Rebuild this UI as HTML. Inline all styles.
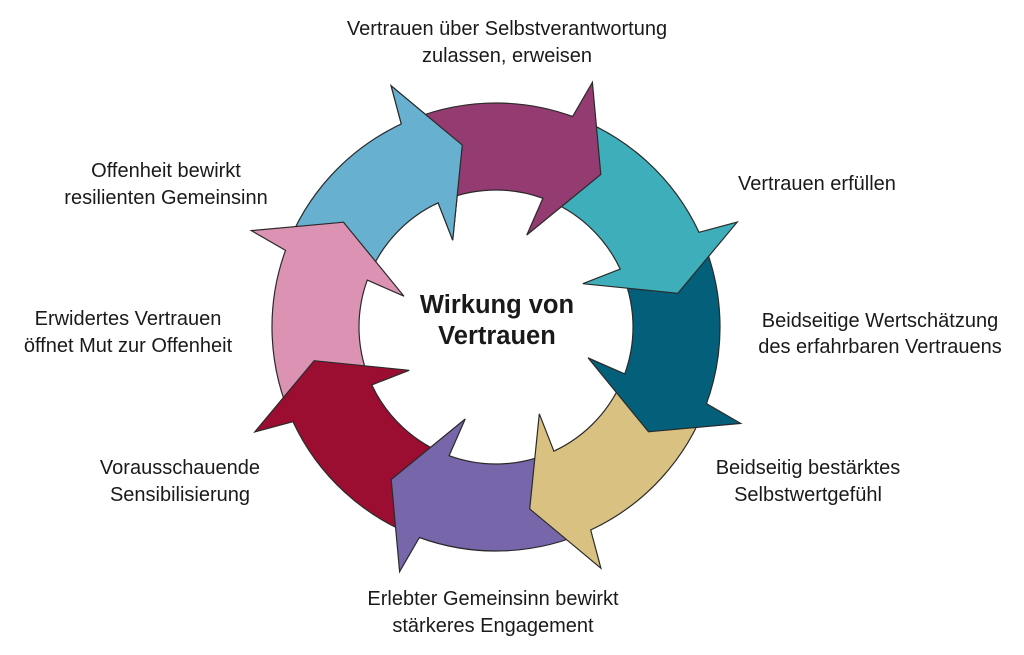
<!DOCTYPE html>
<html><head><meta charset="utf-8"><style>
html,body{margin:0;padding:0;background:#fff;}
svg{display:block;}
text{font-family:"Liberation Sans",sans-serif;font-size:20px;fill:#1a1a1a;}
</style></head><body>
<svg id="s" width="1024" height="655" viewBox="0 0 1024 655" xmlns="http://www.w3.org/2000/svg">
<defs><clipPath id="cp"><path id="cpp" d=""/></clipPath></defs>
<g id="arrows"></g>
<g text-anchor="middle">
<text x="507" y="35">Vertrauen über Selbstverantwortung</text>
<text x="507" y="62">zulassen, erweisen</text>
<text x="166" y="177">Offenheit bewirkt</text>
<text x="166" y="204">resilienten Gemeinsinn</text>
<text x="128" y="325">Erwidertes Vertrauen</text>
<text x="128" y="352">öffnet Mut zur Offenheit</text>
<text x="180" y="474">Vorausschauende</text>
<text x="180" y="501">Sensibilisierung</text>
<text x="493" y="605">Erlebter Gemeinsinn bewirkt</text>
<text x="493" y="632">stärkeres Engagement</text>
<text x="808" y="474">Beidseitig bestärktes</text>
<text x="808" y="501">Selbstwertgefühl</text>
<text x="880" y="327">Beidseitige Wertschätzung</text>
<text x="880" y="353">des erfahrbaren Vertrauens</text>
<text x="738" y="190" text-anchor="start">Vertrauen erfüllen</text>
<text x="497" y="313" style="font-size:25.5px;font-weight:bold">Wirkung von</text>
<text x="497" y="344" style="font-size:25.5px;font-weight:bold">Vertrauen</text>
</g>
</svg>
<script>
var cx=496,cy=327,R=224,r=137;
var cols=["#943b71","#3eafba","#035f7a","#d9c281","#7866aa","#9b0d31","#dc93b3","#68b0cf"];
function P(rad,a){a=a*Math.PI/180;return (cx+rad*Math.cos(a)).toFixed(1)+","+(cy+rad*Math.sin(a)).toFixed(1);}
function arrow(k){
 var tip=-55.5+45*k, base=tip-14.5, prev=base-45;
 return "M"+P(R,prev)+" A"+R+","+R+" 0 0 1 "+P(R,base)+" L"+P(263,tip-13)+" L"+P(185,tip)+" L"+P(97,tip-16)+" L"+P(r,base)+" A"+r+","+r+" 0 0 0 "+P(r,prev)+" Z";
}
var g=document.getElementById("arrows"),h="";
for(var k=7;k>=0;k--){h+='<path d="'+arrow(k)+'" fill="'+cols[k]+'" stroke="#2a2a2a" stroke-width="1.2" stroke-linejoin="miter"/>';}
var t7=-55.5+45*7, b7=t7-16.5;
var wedge="M"+cx+","+cy+" L"+P(400,b7)+" L"+P(400,t7+10)+" Z";
document.getElementById("cpp").setAttribute("d",wedge);
h+='<path clip-path="url(#cp)" d="'+arrow(7)+'" fill="'+cols[7]+'" stroke="#2a2a2a" stroke-width="1.2"/>';
g.innerHTML=h;
</script>
</body></html>
